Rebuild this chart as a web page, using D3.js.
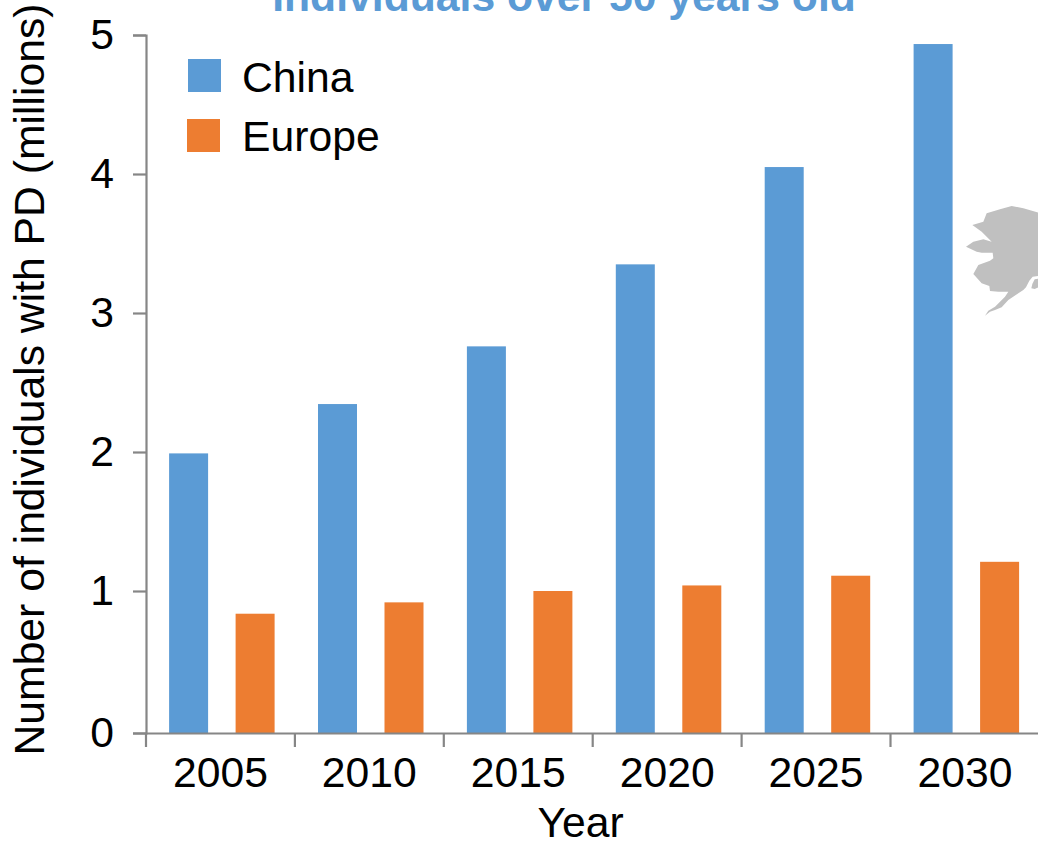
<!DOCTYPE html>
<html><head><meta charset="utf-8">
<script src="https://cdn.jsdelivr.net/npm/d3@7/dist/d3.min.js"></script>
<style>html,body{margin:0;padding:0;background:#fff;overflow:hidden}svg{display:block}text{font-family:"Liberation Sans",Arial,sans-serif;fill:#000}</style>
</head><body><svg id="c" width="1038" height="842"></svg>
<script>
const years=["2005","2010","2015","2020","2025","2030"];
const seriesNames=["China","Europe"];
const china=[1.99,2.345,2.76,3.35,4.05,4.935];
const europe=[0.84,0.92,1.0,1.04,1.11,1.21];
const yTicks=[0,1,2,3,4,5];
const seriesColors=["#5B9BD5","#ED7D31"];
const titleText="Individuals over 50 years old";
const yTitle="Number of individuals with PD (millions)";
const xTitle="Year";
const alaskaMain=[[97,105],[130,95],[140,70],[180,58],[215,48],[250,55],[295,68],[295,258],[278,260],[268,272],[258,292],[250,300],[235,310],[205,330],[185,352],[165,360],[150,365],[135,377],[145,362],[165,350],[195,320],[205,305],[175,305],[150,303],[148,288],[125,280],[100,252],[115,225],[150,212],[160,205],[158,188],[125,188],[110,185],[78,170],[100,155],[130,148],[155,155],[125,125]];
const alaskaIsland=[[295,266],[284,268],[277,282],[274,295],[284,297],[295,292]];

const svg=d3.select("#c");
const x=d3.scaleBand().domain(years).range([146,1039.4]);
// the reference's zero line sits slightly below an even 1-5 spacing
const y=d3.scaleLinear().domain([0,1,5]).range([733,591,35]);
const x1=d3.scaleBand().domain(seriesNames).range([23.1,128.6]).paddingInner(27.5/66.5);
const color=d3.scaleOrdinal(seriesNames,seriesColors);
const fs=42.7;

// bars
[china,europe].forEach((vals,k)=>{
  svg.append("g").selectAll("rect").data(vals).join("rect")
    .attr("x",(d,i)=>x(years[i])+x1(seriesNames[k]))
    .attr("width",x1.bandwidth())
    .attr("y",d=>y(d)).attr("height",d=>y(0)-y(d))
    .attr("fill",color(seriesNames[k]));
});

// axes
const gy=svg.append("g").attr("transform","translate(146,0)")
  .call(d3.axisLeft(y).tickValues(yTicks).tickSize(13).tickPadding(19).tickFormat(d3.format("d")));
const gx=svg.append("g").attr("transform","translate(0,733)")
  .call(d3.axisBottom(x).tickSize(0).tickPadding(23.7));
gx.selectAll("line.edge").data(d3.range(years.length+1)).join("line").attr("class","edge")
  .attr("x1",i=>x.range()[0]+i*x.step()).attr("x2",i=>x.range()[0]+i*x.step())
  .attr("y1",0).attr("y2",14);
svg.selectAll(".domain,.tick line,line.edge").attr("stroke","#868686").attr("stroke-width",2.2);
svg.selectAll(".tick text").style("font-size",fs+"px").style("font-family",'"Liberation Sans"').attr("fill","#000");

// alaska
const ax=d3.scaleLinear().domain([0,294]).range([940,1038]);
const ay=d3.scaleLinear().domain([0,420]).range([190,330]);
const alaskaLine=d3.line().x(d=>ax(d[0])).y(d=>ay(d[1])).curve(d3.curveLinearClosed);
svg.selectAll("path.ak").data([alaskaMain,alaskaIsland]).join("path").attr("class","ak")
  .attr("d",alaskaLine).attr("fill","#C0C0C0");

// legend
const lg=svg.append("g");
const legendY=[59,119], legendX=[188,187], legendBase=[92,151];
seriesNames.forEach((s,i)=>{
  lg.append("rect").attr("x",legendX[i]).attr("y",legendY[i]).attr("width",33).attr("height",33).attr("fill",color(s));
  lg.append("text").attr("x",242).attr("y",legendBase[i]).style("font-size",fs+"px").text(s);
});

// titles
svg.append("text").attr("x",564).attr("y",10.5).attr("text-anchor","middle")
  .style("font-size","42.7px").style("font-weight","bold").style("fill","#5B9BD5").text(titleText);
svg.append("text").attr("transform","translate(43.5,379.5) rotate(-90)").attr("text-anchor","middle")
  .style("font-size",fs+"px").text(yTitle);
svg.append("text").attr("x",580.5).attr("y",837).attr("text-anchor","middle")
  .style("font-size",fs+"px").text(xTitle);
</script></body></html>
